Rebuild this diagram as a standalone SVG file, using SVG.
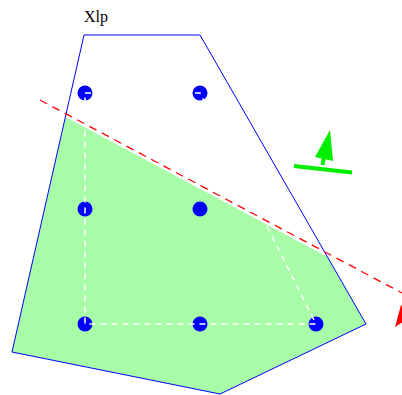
<svg xmlns="http://www.w3.org/2000/svg" width="402" height="395" viewBox="0 0 402 395">
<style>
.dot{fill:#0000ff}
.wd{fill:none;stroke:#ffffff;stroke-width:1.5;stroke-dasharray:6,5}
.rd{fill:none;stroke:#ff0000;stroke-width:1.3;stroke-dasharray:8,6}
</style>
<rect width="402" height="395" fill="#ffffff"/>
<g id="region">
<polygon points="65.5,117 327.5,257 366,324 220,394 12,352" fill="#a8fca8"/>
<polygon points="84,35 200,35 366,324 220,394 12,352" fill="none" stroke="#0000ff" stroke-width="1"/>
</g>
<g id="points">
<circle class="dot" cx="85" cy="93" r="7.5"/>
<circle class="dot" cx="200" cy="93" r="7.5"/>
<circle class="dot" cx="85" cy="209" r="7.5"/>
<circle class="dot" cx="200" cy="209" r="7.5"/>
<circle class="dot" cx="85" cy="324" r="7.5"/>
<circle class="dot" cx="200" cy="324" r="7.5"/>
<circle class="dot" cx="316" cy="324" r="7.5"/>
</g>
<g id="connectors">
<polygon class="wd" points="85,93 200,93 316,324 85,324"/>
<line class="rd" x1="40" y1="100" x2="402" y2="293"/>
<polygon points="395,327 401,305 412,316" fill="#ff0000"/>
<line x1="294" y1="166" x2="352" y2="172.5" stroke="#00ee00" stroke-width="4"/>
<line x1="322.5" y1="165" x2="325" y2="152" stroke="#00ee00" stroke-width="4"/>
<polygon points="330,130 315,157 333,161" fill="#00ee00"/>
</g>
<g id="label">
<text x="84" y="22" font-family="Liberation Serif, serif" font-size="16">Xlp</text>
</g>
</svg>
